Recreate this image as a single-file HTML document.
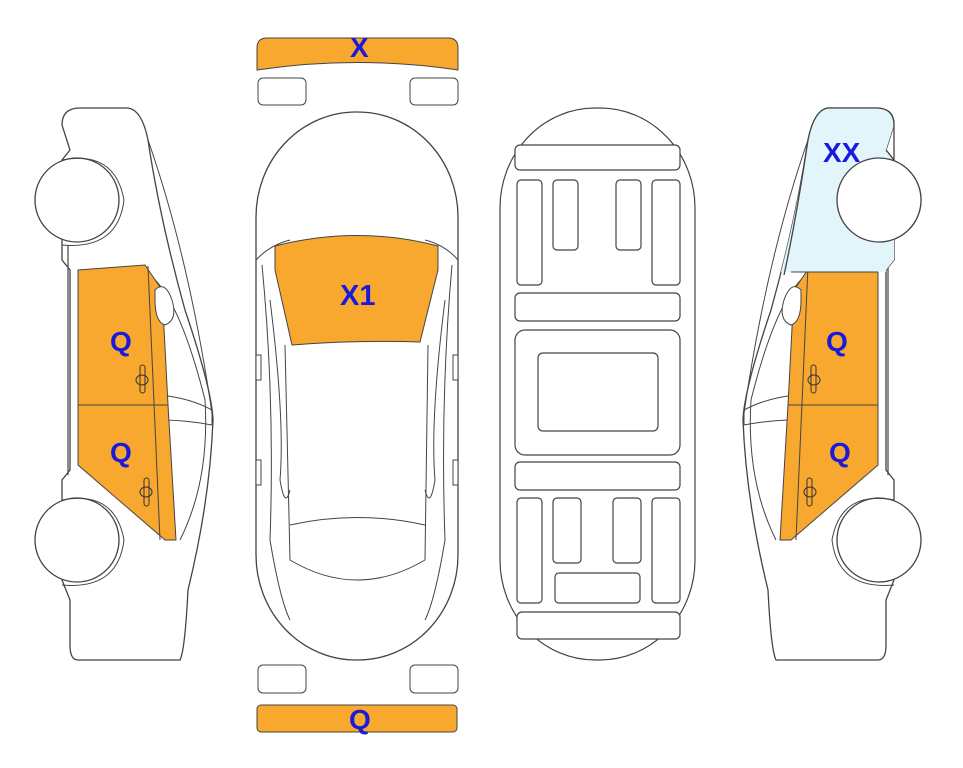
<!DOCTYPE html>
<html><head><meta charset="utf-8"><style>
html,body{margin:0;padding:0;background:#fff;}
svg{display:block;}
text{font-family:"Liberation Sans",Arial,sans-serif;font-weight:bold;fill:#1a1adc;}
</style></head><body>
<svg width="963" height="768" viewBox="0 0 963 768" xmlns="http://www.w3.org/2000/svg">
<defs>
<path id="outline" d="M62,125 Q62,108 80,108 L128,108 Q142,110 148,140 Q160,220 185,310 Q212,390 213,420 Q210,500 188,590 Q185,650 180,660 L78,660 Q70,660 70,645 L70,600 L62,580 L62,480 L70,470 L70,270 L62,260 L62,160 L70,150 Z"/>
<clipPath id="cp"><use href="#outline"/></clipPath>
<g id="side">
  <use href="#outline" fill="#fff" stroke="#444" stroke-width="1.3"/>
  <path d="M68,245 L68,475" fill="none" stroke="#444" stroke-width="1.2"/>
  <path d="M148,140 Q190,260 213,420" fill="none" stroke="#444" stroke-width="1"/>
  <path d="M150,275 Q180,300 205,400 Q210,480 180,540" fill="none" stroke="#444" stroke-width="1"/>
  <path d="M160,395 Q190,398 212,410 L212,425 Q185,420 162,420" fill="none" stroke="#444" stroke-width="1"/>
  <path d="M78,270 L145,265 L162,290 L168,405 L176,540 L165,540 L78,465 Z" fill="#f9a82f" stroke="#444" stroke-width="1"/>
  <path d="M78,405 L168,405 M148,266 L160,540" fill="none" stroke="#444" stroke-width="1"/>
  <path d="M155,290 Q165,280 172,300 Q178,320 165,325 Q155,322 155,300 Z" fill="#fff" stroke="#444" stroke-width="1"/>
  <rect x="140" y="365" width="5" height="28" rx="2.5" fill="none" stroke="#333"/><ellipse cx="142" cy="380" rx="6" ry="5" fill="none" stroke="#333"/>
  <rect x="144" y="478" width="5" height="28" rx="2.5" fill="none" stroke="#333"/><ellipse cx="146" cy="492" rx="6" ry="5" fill="none" stroke="#333"/>
  <circle cx="77" cy="200" r="42" fill="#fff" stroke="#444" stroke-width="1.3"/>
  <path d="M62,160 Q115,150 124,200 Q118,250 62,245" fill="none" stroke="#444" stroke-width="1"/>
  <circle cx="77" cy="540" r="42" fill="#fff" stroke="#444" stroke-width="1.3"/>
  <path d="M62,500 Q115,490 124,540 Q118,590 62,585" fill="none" stroke="#444" stroke-width="1"/>
</g>
</defs>
<use href="#side"/>
<g transform="translate(956,0) scale(-1,1)">
  <use href="#side"/>
  <rect x="60" y="100" width="160" height="172" fill="#e2f5fb" clip-path="url(#cp)"/>
  <path d="M62,125 Q62,108 80,108 L128,108 Q142,110 148,140 Q160,220 172,275" fill="none" stroke="#444" stroke-width="1.3"/>
  <path d="M62,125 L62,160 L70,150" fill="none" stroke="#444" stroke-width="1.3"/>
  <path d="M78,272 L165,272" fill="none" stroke="#444" stroke-width="1"/>
  <circle cx="77" cy="200" r="42" fill="#fff" stroke="#444" stroke-width="1.3"/>
</g>
<text x="110" y="351" font-size="28">Q</text>
<text x="110" y="462" font-size="28">Q</text>
<text x="826" y="351" font-size="28">Q</text>
<text x="829" y="462" font-size="28">Q</text>
<text x="823" y="162" font-size="28">XX</text>

<!-- top view -->
<path d="M257,48 Q257,38 267,38 L448,38 Q458,38 458,48 L458,70 Q357,55 257,70 Z" fill="#f9a82f" stroke="#444"/>
<text x="350" y="57" font-size="28">X</text>
<rect x="258" y="78" width="48" height="27" rx="5" fill="#fff" stroke="#444"/>
<rect x="410" y="78" width="48" height="27" rx="5" fill="#fff" stroke="#444"/>
<rect x="256" y="112" width="202" height="548" rx="100" ry="105" fill="#fff" stroke="#444" stroke-width="1.3"/>
<path d="M256,260 Q270,245 290,240 M458,260 Q445,245 425,240" fill="none" stroke="#444"/>
<path d="M262,265 Q275,400 270,540 Q280,600 290,620 M452,265 Q440,400 445,540 Q435,600 425,620" fill="none" stroke="#444"/>
<path d="M285,345 L290,560 Q357,600 425,560 L428,345" fill="none" stroke="#444"/>
<path d="M290,525 Q357,510 425,525" fill="none" stroke="#444"/>
<path d="M270,300 Q285,420 280,480 Q285,510 290,490 M445,300 Q430,420 435,480 Q430,510 425,490" fill="none" stroke="#444"/>
<rect x="256" y="355" width="5" height="25" fill="#fff" stroke="#444"/><rect x="453" y="355" width="5" height="25" fill="#fff" stroke="#444"/>
<rect x="256" y="460" width="5" height="25" fill="#fff" stroke="#444"/><rect x="453" y="460" width="5" height="25" fill="#fff" stroke="#444"/>
<path d="M275,246 Q357,225 438,246 L438,270 L420,342 Q357,340 292,345 L275,270 Z" fill="#f9a82f" stroke="#444"/>
<text x="340" y="305" font-size="29">X1</text>
<rect x="258" y="665" width="48" height="28" rx="5" fill="#fff" stroke="#444"/>
<rect x="410" y="665" width="48" height="28" rx="5" fill="#fff" stroke="#444"/>
<rect x="257" y="705" width="200" height="27" rx="4" fill="#f9a82f" stroke="#444"/>
<text x="349" y="729" font-size="28">Q</text>

<!-- chassis -->
<g fill="#fff" stroke="#444" stroke-width="1.2">
<rect x="500" y="108" width="195" height="552" rx="95" ry="100"/>
<rect x="515" y="145" width="165" height="25" rx="5"/>
<rect x="517" y="180" width="25" height="105" rx="4"/>
<rect x="553" y="180" width="25" height="70" rx="4"/>
<rect x="616" y="180" width="25" height="70" rx="4"/>
<rect x="652" y="180" width="28" height="105" rx="4"/>
<rect x="515" y="293" width="165" height="28" rx="5"/>
<rect x="515" y="330" width="165" height="125" rx="10"/>
<rect x="538" y="353" width="120" height="78" rx="5"/>
<rect x="515" y="462" width="165" height="28" rx="5"/>
<rect x="517" y="498" width="25" height="105" rx="4"/>
<rect x="553" y="498" width="28" height="65" rx="4"/>
<rect x="613" y="498" width="28" height="65" rx="4"/>
<rect x="652" y="498" width="28" height="105" rx="4"/>
<rect x="555" y="573" width="85" height="30" rx="4"/>
<rect x="517" y="612" width="163" height="27" rx="5"/>
</g>
</svg>
</body></html>
